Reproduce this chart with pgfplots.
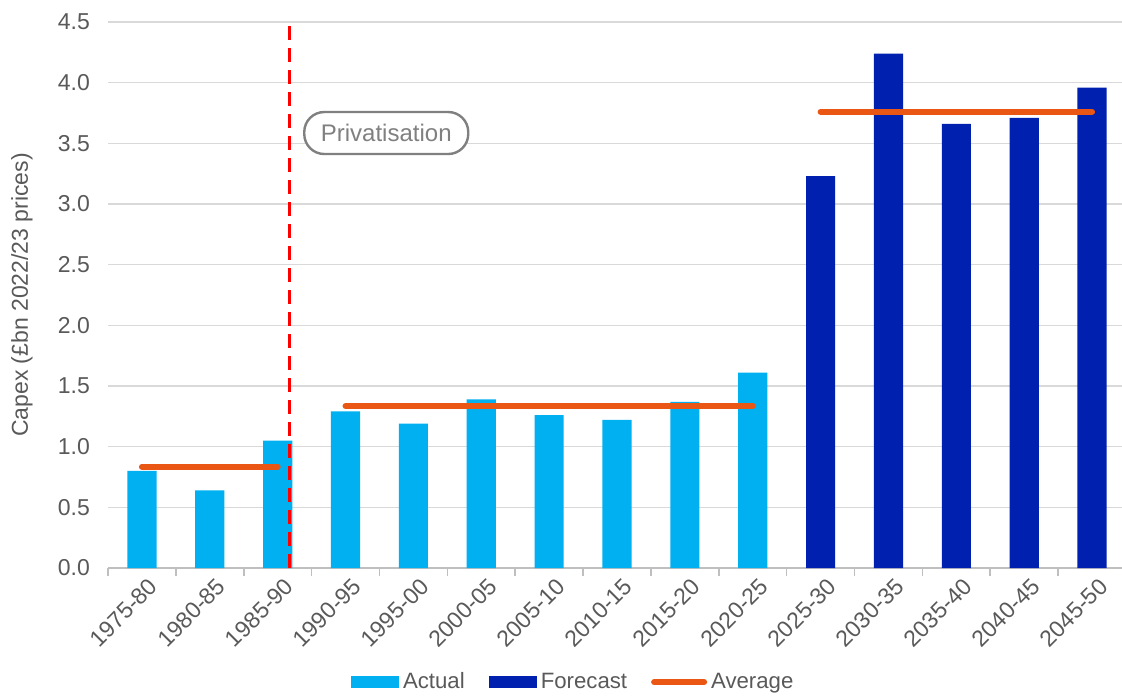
\documentclass[border=0pt]{standalone}
\usepackage{pgfplots}
\pgfplotsset{compat=1.18}
\usepackage{fontspec}
\setmainfont{Liberation Sans}
\definecolor{actual}{RGB}{0,176,240}
\definecolor{forecast}{RGB}{0,32,176}
\definecolor{avgc}{RGB}{234,86,20}
\definecolor{txt}{RGB}{89,89,89}
\definecolor{gridc}{RGB}{217,217,217}
\definecolor{axisc}{RGB}{191,191,191}
\begin{document}
\fontsize{11.5}{13}\selectfont
\begin{tikzpicture}
\path[use as bounding box] (-54pt,-63.5pt) rectangle (507pt,284pt);
\begin{axis}[
  at={(0,0)}, anchor=south west,
  scale only axis, width=509pt, height=273pt,
  xmin=-0.5, xmax=14.5, ymin=0, ymax=4.5,
  clip=false,
  axis lines*=left,
  y axis line style={draw=none},
  x axis line style={draw=axisc, line width=0.8pt},
  tick align=outside,
  xtick pos=bottom, ytick pos=left,
  ytick={0,0.5,1,1.5,2,2.5,3,3.5,4,4.5},
  yticklabel style={/pgf/number format/fixed, /pgf/number format/fixed zerofill, /pgf/number format/precision=1, /pgf/number format/assume math mode=true, xshift=-5pt},
  xtick={0,1,2,3,4,5,6,7,8,9,10,11,12,13,14},
  xticklabels={1975-80,1980-85,1985-90,1990-95,1995-00,2000-05,2005-10,2010-15,2015-20,2020-25,2025-30,2030-35,2035-40,2040-45,2045-50},
  xticklabel style={rotate=45, anchor=north east, inner sep=2pt, yshift=-3pt, xshift=1pt},
  minor xtick={-0.5,0.5,1.5,2.5,3.5,4.5,5.5,6.5,7.5,8.5,9.5,10.5,11.5,12.5,13.5,14.5},
  major tick length=0pt,
  minor tick length=4pt,
  minor x tick style={draw=axisc, line width=0.8pt},
  tick label style={font=\fontsize{11.5}{13}\selectfont, text=txt},
  ymajorgrids,
  major grid style={draw=gridc, line width=0.8pt},
  ylabel={Capex (£bn 2022/23 prices)},
  ylabel style={at={(axis description cs:-0.0845,0.5)}, anchor=center, font=\fontsize{11.5}{13}\selectfont, text=txt},
  legend columns=3,
  legend style={at={(0.458,-0.209)}, anchor=center, draw=none, fill=none,
    font=\fontsize{11.1}{13}\selectfont, text=txt,
    /tikz/every even column/.append style={column sep=10pt}},
]
\addplot[ybar, bar width=0.43, bar shift=0pt, fill=actual, draw=none,
  legend image code/.code={\fill[actual] (0pt,-3pt) rectangle (24pt,3pt);}]
  coordinates {(0,0.80) (1,0.64) (2,1.05) (3,1.29) (4,1.19) (5,1.39) (6,1.26) (7,1.22) (8,1.37) (9,1.61)};
\addlegendentry{Actual}
\addplot[ybar, bar width=0.43, bar shift=0pt, fill=forecast, draw=none,
  legend image code/.code={\fill[forecast] (0pt,-3pt) rectangle (24pt,3pt);}]
  coordinates {(10,3.23) (11,4.24) (12,3.66) (13,3.71) (14,3.96)};
\addlegendentry{Forecast}
\addplot[avgc, line width=3pt, line cap=round, no marks,
  legend image code/.code={\draw[avgc, line width=3pt, line cap=round] (0pt,0pt) -- (25pt,0pt);}]
  coordinates {(0,0.835) (2,0.835)};
\addlegendentry{Average}
\addplot[avgc, line width=3pt, line cap=round, no marks, forget plot]
  coordinates {(3,1.335) (9,1.335)};
\addplot[avgc, line width=3pt, line cap=round, no marks, forget plot]
  coordinates {(10,3.76) (14,3.76)};
\addplot[red, line width=1.5pt, dash pattern=on 7pt off 4pt, no marks, forget plot]
  coordinates {(2.18,0) (2.18,4.52)};
\node[draw=gray, line width=1.2pt, rounded corners=10pt, fill=white, text=gray,
  minimum width=82pt, minimum height=21pt, font=\fontsize{12}{14}\selectfont]
  at (axis cs:3.6,3.585) {Privatisation};
\end{axis}
\end{tikzpicture}
\end{document}
